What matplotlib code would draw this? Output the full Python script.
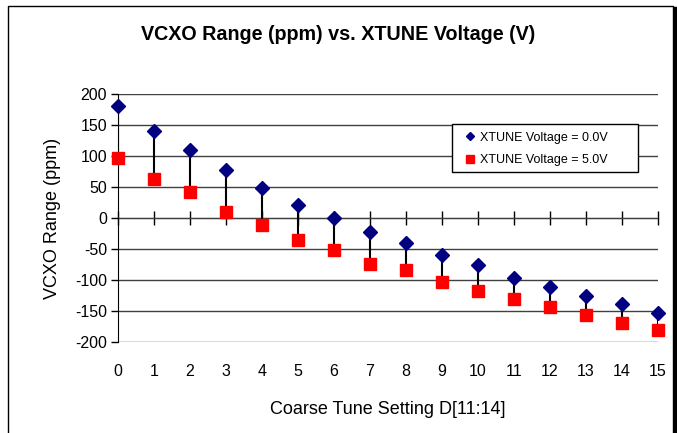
import matplotlib.pyplot as plt
from matplotlib.patches import Rectangle
from matplotlib.lines import Line2D

plt.rcParams['font.family'] = ['Liberation Sans', 'DejaVu Sans']
plt.rcParams['axes.unicode_minus'] = False

settings = list(range(16))
ppm_0v = [180, 140, 109, 77, 49, 21, 0, -22, -40, -60, -76, -96, -112, -125, -139, -153]
ppm_5v = [96, 63, 42, 10, -11, -35, -52, -74, -84, -104, -117, -131, -144, -156, -170, -181]
y_ticks = [200, 150, 100, 50, 0, -50, -100, -150, -200]

fig = plt.figure(figsize=(6.77, 4.33), dpi=100)
ax = fig.add_axes([118/677, 1 - 342/433, 540/677, 248/433])

# gridlines
for v in y_ticks:
    ax.axhline(v, color='#404040', lw=1, zorder=1)

# high-low lines between the two series
ax.vlines(settings, ppm_5v, ppm_0v, color='black', lw=1.5, zorder=2)

ax.plot(settings, ppm_0v, 'D', color='#000080', ms=7, clip_on=False, zorder=4,
        label='XTUNE Voltage = 0.0V')
ax.plot(settings, ppm_5v, 's', color='#FF0000', ms=8.5, mec='#FF0000', clip_on=False,
        zorder=3, label='XTUNE Voltage = 5.0V')

ax.set_xlim(0, 15)
ax.set_ylim(-200, 200)
ax.set_yticks(y_ticks)
ax.set_xticks(settings)
ax.tick_params(axis='y', length=5, width=1, labelsize=11.5, pad=3)
ax.tick_params(axis='x', length=0, labelsize=11.5, pad=16)

for s in ['top', 'right', 'bottom']:
    ax.spines[s].set_visible(False)
ax.spines['left'].set_color('black')

# axis line through zero with tick marks
sec = ax.secondary_xaxis(0.5)
sec.set_xticks(settings)
sec.tick_params(direction='inout', length=10, width=1, labelbottom=False, labeltop=False,
                color='black')
sec.spines['bottom'].set_color('black')

ax.set_ylabel('VCXO Range (ppm)', fontsize=13, labelpad=10)
ax.set_xlabel('Coarse Tune Setting D[11:14]', fontsize=13, labelpad=16)
fig.text(0.5, 1 - 35/433, 'VCXO Range (ppm) vs. XTUNE Voltage (V)', ha='center', va='center',
         fontsize=14.2, fontweight='bold')

# legend with its own box
ax.add_patch(Rectangle(((452-118)/540, (342-172)/248), 186/540, 48/248, transform=ax.transAxes,
                       facecolor='white', edgecolor='black', lw=1, zorder=5, clip_on=False))
leg = ax.legend(loc='upper left', bbox_to_anchor=((454-118)/540, (342-121)/248), fontsize=9,
                frameon=False, handlelength=0.8, handletextpad=0.4, borderpad=0.35,
                labelspacing=0.85, markerscale=0.6)
leg.set_zorder(6)

# chart border
fig.add_artist(Rectangle((8/677, -0.05), 665/677, 1.05 - 6/433, transform=fig.transFigure,
                         fill=False, edgecolor='black', lw=1))
fig.add_artist(Line2D([674.5/677, 674.5/677], [0, 1 - 8/433], transform=fig.transFigure,
                      color='black', lw=2.5))

fig.savefig('out.png', dpi=100)
